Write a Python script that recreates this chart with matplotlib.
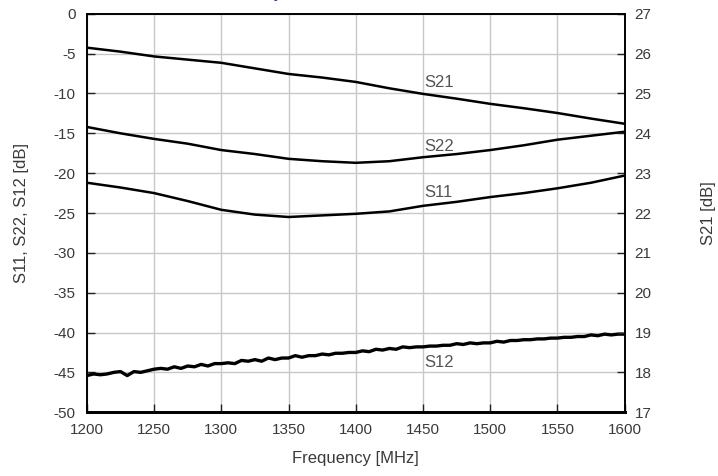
import numpy as np
import matplotlib.pyplot as plt

plt.rcParams['font.family'] = ['Liberation Sans', 'DejaVu Sans']
plt.rcParams['axes.unicode_minus'] = False

# frequency grid for the smooth traces [MHz]
freq = [1200, 1225, 1250, 1275, 1300, 1325, 1350, 1375, 1400,
        1425, 1450, 1475, 1500, 1525, 1550, 1575, 1600]

# S21 on right axis [dB]
s21 = [26.15, 26.05, 25.93, 25.85, 25.77, 25.63, 25.49, 25.40, 25.29,
       25.13, 24.99, 24.87, 24.74, 24.63, 24.51, 24.37, 24.24]
# S22, S11 on left axis [dB]
s22 = [-14.2, -15.0, -15.7, -16.3, -17.1, -17.6, -18.2, -18.5, -18.7,
       -18.5, -18.0, -17.6, -17.1, -16.5, -15.8, -15.3, -14.8]
s11 = [-21.2, -21.8, -22.5, -23.5, -24.6, -25.2, -25.5, -25.3, -25.1,
       -24.8, -24.1, -23.6, -23.0, -22.5, -21.9, -21.2, -20.3]

# S12 is noisy, read every 5 MHz
freq12 = list(range(1200, 1605, 5))
s12 = [-45.4, -45.2, -45.3, -45.2, -45.0, -44.9, -45.4, -44.9, -45.0, -44.8,
       -44.6, -44.5, -44.6, -44.3, -44.5, -44.2, -44.3, -44.0, -44.2, -43.9,
       -43.9, -43.8, -43.9, -43.5, -43.6, -43.4, -43.6, -43.2, -43.4, -43.2,
       -43.2, -42.9, -43.1, -42.9, -42.9, -42.7, -42.8, -42.6, -42.6, -42.5,
       -42.5, -42.3, -42.4, -42.1, -42.2, -42.0, -42.1, -41.8, -41.9, -41.8,
       -41.8, -41.7, -41.7, -41.6, -41.6, -41.4, -41.5, -41.3, -41.4, -41.3,
       -41.3, -41.1, -41.2, -41.0, -41.0, -40.9, -40.9, -40.8, -40.8, -40.7,
       -40.7, -40.6, -40.6, -40.5, -40.5, -40.3, -40.4, -40.2, -40.3, -40.2,
       -40.2]

fig = plt.figure(figsize=(7.18, 4.76), dpi=100)
ax = fig.add_axes([0.121, 0.134, 0.749, 0.837])
ax2 = ax.twinx()

ax.plot(freq, s22, color='black', lw=1.8)
ax.plot(freq, s11, color='black', lw=1.8)
ax.plot(freq12, s12, color='black', lw=2.4)
ax2.plot(freq, s21, color='black', lw=1.8)

ax.set_xlim(1200, 1600)
ax.set_ylim(-50, 0)
ax2.set_ylim(17, 27)
ax.set_xticks(np.arange(1200, 1601, 50))
ax.set_yticks(np.arange(-50, 1, 5))
ax2.set_yticks(np.arange(17, 28, 1))

ax.grid(True, color='#c8c8c8', lw=1)
ax.set_axisbelow(True)

tc = '#3a3a3a'
ax.tick_params(axis='both', direction='in', length=6, width=1, color='#222222',
               labelsize=11, labelcolor=tc, pad=8)
ax2.tick_params(axis='y', direction='in', length=6, width=1, color='#222222',
                labelsize=11, labelcolor=tc, pad=7)

for s in ['left', 'right', 'top']:
    ax.spines[s].set_linewidth(1.2)
    ax2.spines[s].set_linewidth(1.2)
ax.spines['bottom'].set_linewidth(2)
ax2.spines['bottom'].set_linewidth(2)

ax.set_xlabel('Frequency [MHz]', fontsize=12, color=tc, labelpad=10)
ax.set_ylabel('S11, S22, S12 [dB]', fontsize=12, color=tc, labelpad=18)
ax2.set_ylabel('S21 [dB]', fontsize=12, color=tc, labelpad=36)

lab = dict(fontsize=12, color='#555555', va='center', ha='left')
ax.text(1451, -8.6, 'S21', **lab)
ax.text(1451, -16.6, 'S22', **lab)
ax.text(1451, -22.4, 'S11', **lab)
ax.text(1451, -43.7, 'S12', **lab)

# cut-off title fragment at the top edge
fig.text(0.382, 1.004, 'y', color='#1a1acc', fontsize=12, va='baseline', ha='left')

fig.savefig('out.png', dpi=100)
